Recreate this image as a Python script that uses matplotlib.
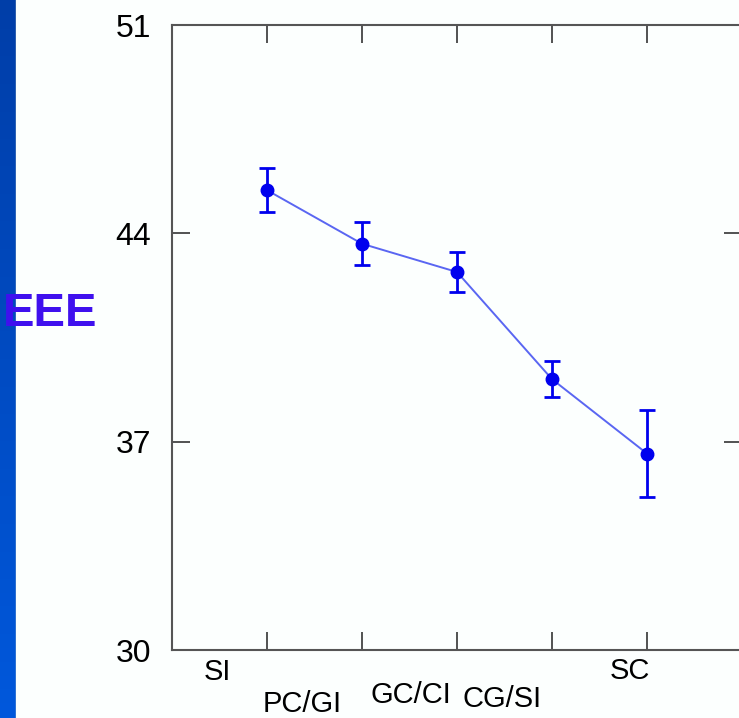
import numpy as np
import matplotlib; matplotlib.use("Agg"); import matplotlib.pyplot as plt
from matplotlib.colors import LinearSegmentedColormap

# data
groups = ["SI", "PC/GI", "GC/CI", "CG/SI", "SC"]
xpos = [1, 2, 3, 4, 5]
means = [45.45, 43.65, 42.7, 39.1, 36.6]
errs = [0.73, 0.73, 0.66, 0.6, 1.45]
yticks = [30, 37, 44, 51]

plt.rcParams["font.family"] = ["Liberation Sans", "DejaVu Sans"]
fig = plt.figure(figsize=(7.39, 7.18), dpi=100, facecolor="#fcfffe")

# blue slide strip on the left
strip = fig.add_axes([0, 0, 16/739, 1])
grad = np.linspace(0, 1, 256).reshape(-1, 1)
cm = LinearSegmentedColormap.from_list("s", ["#003ea8", "#0058dc"])
strip.imshow(grad, aspect="auto", cmap=cm, extent=[0, 1, 0, 1], origin="upper")
strip.axvline(0.97, color="#f4f0c0", lw=1)
strip.axis("off")

ax = fig.add_axes([172/739, 1-650/718, 570/739, 625/718])
ax.set_facecolor("#fcfffe")
ax.plot(xpos, means, color="#5a66f2", lw=1.4, zorder=2)
ax.errorbar(xpos, means, yerr=errs, fmt="o", color="#0000ee", ms=9,
            elinewidth=2, capsize=6, capthick=2, zorder=3)
ax.set_xlim(0, 6); ax.set_ylim(30, 51)
ax.set_yticks(yticks)
ax.set_yticklabels([str(v) for v in yticks], fontsize=23)
ax.set_xticks(xpos); ax.set_xticklabels([])
ax.tick_params(direction="in", length=13, width=1.3, color="#444444",
               top=True, right=True, pad=15)
for s in ax.spines.values():
    s.set_color("#555555"); s.set_linewidth(1.5)
ax.spines["right"].set_visible(False)

# staggered category labels
lab_x = [0.48, 1.37, 2.51, 3.47, 4.82]
lab_y = [-0.035, -0.087, -0.072, -0.078, -0.034]
for t, xx, yy in zip(groups, lab_x, lab_y):
    ax.text(xx, yy, t, transform=ax.get_xaxis_transform(), ha="center",
            va="center", fontsize=21, clip_on=False)

fig.text(3/739, 1-314/718, "EEE", color="#3f10ee", fontsize=34,
         fontweight="bold", ha="left", va="center")

fig.savefig("out.png", dpi=100, facecolor=fig.get_facecolor())
